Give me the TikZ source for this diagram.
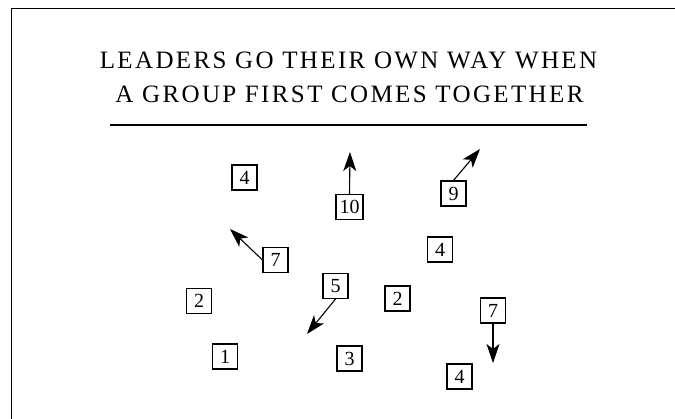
\documentclass[tikz,border=0pt]{standalone}
\usepackage{fontspec}
\setmainfont{Liberation Serif}
\newfontfamily\titlefont[LetterSpace=9.5]{Liberation Serif}
\usetikzlibrary{arrows.meta}
\begin{document}
\begin{tikzpicture}[x=1pt,y=-1pt,
  member/.style={draw, line width=1.1pt, minimum width=25pt, minimum height=25pt, inner sep=0pt, font=\fontsize{20}{20}\selectfont},
  move/.style={line width=1.1pt, -{Stealth[length=19pt, width=13pt, inset=5pt]}},
  frame/.style={line width=1.3pt},
  ttl/.style={inner sep=0pt, font=\titlefont\fontsize{25}{25}\selectfont}]
\useasboundingbox (0,0) rectangle (675,419);
% frame
\coordinate (fbl) at (11.5,419);
\coordinate (ftl) at (11.5,8.5);
\coordinate (ftr) at (675,8.5);
\draw[frame] (fbl) -- (ftl) -- (ftr);
% title
\node[ttl, anchor=base] (t1) at (348.5,69) {LEADERS GO THEIR OWN WAY WHEN};
\node[ttl, anchor=base] (t2) at (349.5,103) {A GROUP FIRST COMES TOGETHER};
\coordinate (ul) at (110,125);
\coordinate (ur) at (587,125);
\draw[line width=1.3pt] (ul) -- (ur);
% members
\node[member] (a4)  at (244.5,177.5) {4};
\node[member, minimum width=27pt] (a10) at (349.5,207) {10};
\node[member] (a9)  at (453.5,193.5) {9};
\node[member] (a7)  at (275.5,260) {7};
\node[member] (b4)  at (440,249.5) {4};
\node[member] (a5)  at (335.5,286) {5};
\node[member] (a2)  at (199,301) {2};
\node[member] (b2)  at (397.5,298.5) {2};
\node[member] (b7)  at (493,310.5) {7};
\node[member] (a1)  at (225,356.5) {1};
\node[member] (a3)  at (349.5,358.5) {3};
\node[member] (c4)  at (459.5,376.5) {4};
% directions
\coordinate (d10) at (350,152);
\coordinate (d9) at (480,149);
\coordinate (d7) at (230,229);
\coordinate (d5) at (307,334);
\coordinate (db7) at (493,363);
\draw[move] (a10.north) -- (d10);
\draw[move] (a9.north) -- (d9);
\draw[move] (a7.west) -- (d7);
\draw[move] (a5.south) -- (d5);
\draw[move] (b7.south) -- (db7);
\end{tikzpicture}
\end{document}
